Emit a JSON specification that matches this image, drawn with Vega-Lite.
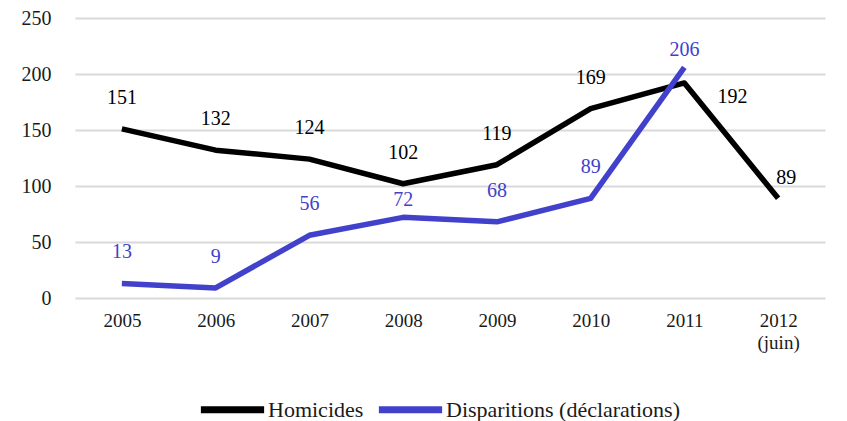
{
  "$schema": "https://vega.github.io/schema/vega-lite/v6.json",
  "autosize": "none",
  "width": 750,
  "height": 280,
  "padding": {"left": 75, "top": 18, "right": 22, "bottom": 123},
  "background": "white",
  "config": {
    "font": "Liberation Serif",
    "view": {"stroke": null},
    "axis": {"labelFont": "Liberation Serif", "labelColor": "#1a1a1a", "labelFontSize": 20}
  },
  "data": {
    "values": [
      {"year": "2005", "series": "Homicides", "value": 151},
      {"year": "2006", "series": "Homicides", "value": 132},
      {"year": "2007", "series": "Homicides", "value": 124},
      {"year": "2008", "series": "Homicides", "value": 102},
      {"year": "2009", "series": "Homicides", "value": 119},
      {"year": "2010", "series": "Homicides", "value": 169},
      {"year": "2011", "series": "Homicides", "value": 192},
      {"year": "2012", "series": "Homicides", "value": 89},
      {"year": "2005", "series": "Disparitions (déclarations)", "value": 13},
      {"year": "2006", "series": "Disparitions (déclarations)", "value": 9},
      {"year": "2007", "series": "Disparitions (déclarations)", "value": 56},
      {"year": "2008", "series": "Disparitions (déclarations)", "value": 72},
      {"year": "2009", "series": "Disparitions (déclarations)", "value": 68},
      {"year": "2010", "series": "Disparitions (déclarations)", "value": 89},
      {"year": "2011", "series": "Disparitions (déclarations)", "value": 206}
    ]
  },
  "encoding": {
    "x": {
      "field": "year", "type": "ordinal",
      "scale": {"type": "point", "padding": 0.5},
      "axis": {
        "title": null, "labelAngle": 0, "domain": false, "ticks": false, "grid": false,
        "labelPadding": 13, "labelFontSize": 19, "labelLineHeight": 22,
        "labelExpr": "datum.label == '2012' ? ['2012', '(juin)'] : datum.label"
      }
    },
    "y": {
      "field": "value", "type": "quantitative",
      "scale": {"domain": [0, 250]},
      "axis": {
        "title": null, "values": [0, 50, 100, 150, 200, 250], "domain": false, "ticks": false,
        "gridColor": "#d9d9d9", "gridWidth": 2, "labelPadding": 24, "labelFontSize": 20
      }
    },
    "color": {
      "field": "series", "type": "nominal",
      "scale": {"domain": ["Homicides", "Disparitions (déclarations)"], "range": ["#000000", "#4141cc"]},
      "legend": {
        "title": null, "orient": "none", "direction": "horizontal",
        "legendX": 122, "legendY": 356,
        "symbolType": "stroke", "symbolSize": 4000, "symbolStrokeWidth": 7,
        "labelFont": "Liberation Serif", "labelFontSize": 22, "labelColor": "#1a1a1a",
        "labelOffset": 0, "columnPadding": 0, "labelLimit": 400
      }
    }
  },
  "layer": [
    {
      "mark": {"type": "line", "strokeWidth": 5.5, "strokeJoin": "round"}
    },
    {
      "transform": [{"filter": "datum.value != 192 && datum.year != '2012' && datum.value != 72 && datum.value != 206"}],
      "mark": {"type": "text", "dy": -31, "fontSize": 20, "font": "Liberation Serif"},
      "encoding": {"text": {"field": "value", "type": "quantitative"}}
    },
    {
      "transform": [{"filter": "datum.value == 72 || datum.value == 206"}],
      "mark": {"type": "text", "dy": -17, "fontSize": 20, "font": "Liberation Serif"},
      "encoding": {"text": {"field": "value", "type": "quantitative"}}
    },
    {
      "transform": [{"filter": "datum.value == 192"}],
      "mark": {"type": "text", "dx": 48, "dy": 14, "fontSize": 20, "font": "Liberation Serif"},
      "encoding": {"text": {"field": "value", "type": "quantitative"}}
    },
    {
      "transform": [{"filter": "datum.year == '2012'"}],
      "mark": {"type": "text", "dx": 8, "dy": -20, "fontSize": 20, "font": "Liberation Serif"},
      "encoding": {"text": {"field": "value", "type": "quantitative"}}
    }
  ]
}
